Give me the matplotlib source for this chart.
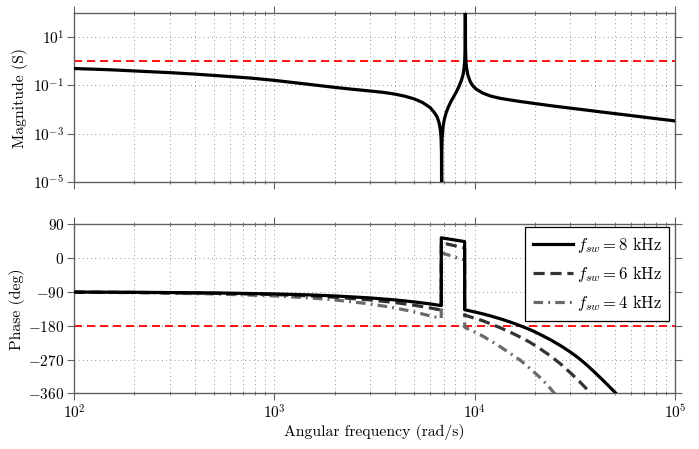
import matplotlib
matplotlib.use("Agg")
import matplotlib.pyplot as plt
import matplotlib.ticker as mticker
import numpy as np

plt.rcParams['font.family'] = 'cmr10'
plt.rcParams['mathtext.fontset'] = 'cm'
plt.rcParams['axes.formatter.use_mathtext'] = True

# ---- data ----
mag_w = [100, 150, 200, 300, 400, 550, 750, 1000, 1400, 2000, 2400, 3000, 3520,
         4000, 4500, 5000, 5500, 6000, 6300, 6500, 6650, 6750, 6800, 6830, 6840,
         6850, 6880, 6950, 7050, 7200, 7400, 7600, 7800, 8000, 8200, 8400, 8600,
         8750, 8850, 8920, 8960, 8980, 9000, 9040, 9100, 9250, 9500, 9800, 10200,
         11000, 12000, 13500, 15000, 17000, 20000, 24000, 30000, 35200, 43000,
         51640, 62000, 75860, 100000]
mag_log = [-0.30, -0.35, -0.40, -0.47, -0.53, -0.61, -0.69, -0.79, -0.93, -1.08,
           -1.15, -1.23, -1.29, -1.36, -1.45, -1.56, -1.71, -1.92, -2.13, -2.31,
           -2.56, -2.87, -3.22, -3.81, -7.00,
           -3.79, -3.18, -2.72, -2.42, -2.14, -1.88, -1.68, -1.51, -1.35, -1.18,
           -0.99, -0.77, -0.56, -0.29, 0.04, 0.53, 4.00, 0.51, 0.04, -0.25, -0.57,
           -0.84, -1.02, -1.16, -1.32, -1.44, -1.54, -1.60, -1.67, -1.75, -1.84,
           -1.94, -2.01, -2.10, -2.18, -2.26, -2.35, -2.47]

ph8_w = [100, 200, 500, 1000, 1500, 2000, 3000, 4000, 5000, 6000, 6810, 6815, 8910,
         8915, 10000, 11000, 12000, 13500, 15000, 17000, 19000, 21000, 24000,
         27000, 30000, 33000, 36000, 39000, 42700, 46000, 50700, 55000]
ph8 = [-90.5, -91, -92.7, -95.3, -98, -100.7, -106, -111.3, -116.7, -122, -126.5,
       54, 44, -137.5, -143.3, -148.6, -154, -162, -170, -180.6, -191, -202, -218,
       -234, -250, -266, -283, -300, -320, -337, -360, -383]

ph6_w = [100, 200, 500, 1000, 1500, 2000, 3000, 4000, 5000, 6000, 6810, 6815, 8910,
         8915, 10000, 11000, 12000, 13500, 15000, 17000, 19000, 21000, 24000,
         27000, 30000, 33000, 36000, 38000, 41000]
ph6 = [-90.5, -91.4, -93.6, -97.1, -100.7, -104.2, -111.3, -118.4, -125.6, -132.7,
       -138.4, 41, 27, -152, -160, -167, -175, -186, -197, -211, -225, -240, -261,
       -283, -305, -326, -347, -360, -382]

ph4_w = [100, 200, 500, 1000, 1500, 2000, 3000, 4000, 5000, 6000, 6810, 6815, 8910,
         8915, 10000, 11000, 12000, 13500, 15000, 17000, 19000, 21000, 23000,
         25000, 27000]
ph4 = [-91, -92, -95.3, -100.7, -106, -111.3, -122, -132.6, -143.3, -154, -160,
       14, -5, -184, -197, -208, -220, -237, -253, -273, -295, -316, -337, -360,
       -378]

labels = [r'$f_{sw} = 8\ \mathrm{kHz}$', r'$f_{sw} = 6\ \mathrm{kHz}$',
          r'$f_{sw} = 4\ \mathrm{kHz}$']
mag_ref = 1.0
phase_ref = -180
phase_ticks = [90, 0, -90, -180, -270, -360]
mag_ticks = [1e1, 1e-1, 1e-3, 1e-5]

# ---- figure ----
fig = plt.figure(figsize=(6.99, 4.49), dpi=100)
W, H = 699, 449
def rect(l, t, r, b):
    return [l / W, 1 - b / H, (r - l) / W, (b - t) / H]

ax1 = fig.add_axes(rect(74, 13, 675, 182))
ax2 = fig.add_axes(rect(74, 224.3, 675, 393.3))

spine_c = '#606060'
grid_kw = dict(color='0.45', lw=0.6, linestyle=(0, (1, 4)))

for ax in (ax1, ax2):
    ax.set_xscale('log')
    ax.set_xlim(1e2, 1e5)
    for s in ax.spines.values():
        s.set_color(spine_c)
        s.set_linewidth(1.0)
    ax.xaxis.set_minor_locator(mticker.LogLocator(base=10, subs=np.arange(2, 10)))
    ax.xaxis.set_minor_formatter(mticker.NullFormatter())
    ax.tick_params(which='major', direction='out', length=5, width=0.8,
                   color=spine_c, top=True, right=True, labelsize=11, pad=2)
    ax.tick_params(which='minor', direction='inout', length=3.5, width=0.6,
                   color=spine_c, top=True, right=True)
    ax.xaxis.grid(True, which='both', **grid_kw)
    ax.yaxis.grid(True, which='major', **grid_kw)
    ax.set_axisbelow(True)

# magnitude
ax1.set_yscale('log')
ax1.set_ylim(1e-5, 1e2)
ax1.set_yticks(mag_ticks)
ax1.yaxis.set_minor_locator(mticker.NullLocator())
ax1.yaxis.set_major_formatter(mticker.LogFormatterMathtext())
ax1.tick_params(axis='x', which='both', labelbottom=False)
ax1.axhline(mag_ref, color='red', lw=1.3, dashes=(4.5, 2.7), zorder=2)
ax1.plot(mag_w, [10 ** v for v in mag_log], color='black', lw=2.3, zorder=3)
ax1.set_ylabel('Magnitude (S)', fontsize=11.3, labelpad=4)

# phase
ax2.set_ylim(-360, 90)
ax2.set_yticks(phase_ticks)
ax2.set_yticklabels([r'$%d$' % t for t in phase_ticks])
ax2.xaxis.set_major_formatter(mticker.LogFormatterMathtext())
ax2.axhline(phase_ref, color='red', lw=1.3, dashes=(4.5, 2.7), zorder=2)
l8, = ax2.plot(ph8_w, ph8, color='black', lw=2.3, zorder=5, label=labels[0])
l6, = ax2.plot(ph6_w, ph6, color='#333333', lw=2.3, zorder=4,
               linestyle=(0, (3.5, 1.8)), label=labels[1])
l4, = ax2.plot(ph4_w, ph4, color='#6a6a6a', lw=2.3, zorder=3,
               linestyle=(0, (3.0, 1.6, 0.6, 1.6)), label=labels[2])
ax2.set_ylabel('Phase (deg)', fontsize=11.3, labelpad=2)
ax2.set_xlabel('Angular frequency (rad/s)', fontsize=11.3, labelpad=2)

leg = ax2.legend(handles=[l8, l6, l4], loc='upper right',
                 bbox_to_anchor=(0.9905, 0.982), borderaxespad=0,
                 fontsize=12, frameon=True, fancybox=False, framealpha=1,
                 edgecolor='black', handlelength=2.4, handletextpad=0.25,
                 labelspacing=0.55, borderpad=0.45)
leg.get_frame().set_linewidth(0.9)

fig.savefig('out.png', dpi=100)
